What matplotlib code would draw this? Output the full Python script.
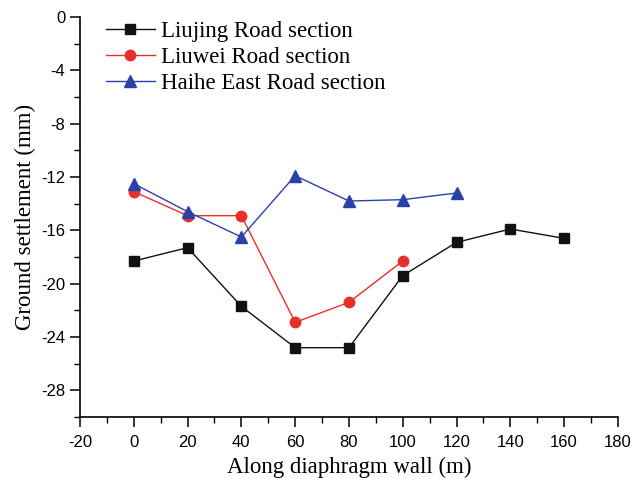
import matplotlib.pyplot as plt
import numpy as np

plt.rcParams['axes.unicode_minus'] = False

# distance along the diaphragm wall (m) and settlement (mm)
x_liujing = [0, 20, 40, 60, 80, 100, 120, 140, 160]
y_liujing = [-18.3, -17.3, -21.7, -24.8, -24.8, -19.4, -16.9, -15.9, -16.6]

x_liuwei = [0, 20, 40, 60, 80, 100]
y_liuwei = [-13.1, -14.9, -14.9, -22.9, -21.4, -18.3]

x_haihe = [0, 20, 40, 60, 80, 100, 120]
y_haihe = [-12.5, -14.6, -16.5, -11.9, -13.8, -13.7, -13.2]

serif = 'Liberation Serif'
sans = 'Liberation Sans'

fig = plt.figure(figsize=(6.37, 4.79), dpi=100)
ax = fig.add_axes([0.1256, 0.1294, 0.8444, 0.8351])

ax.plot(x_liujing, y_liujing, color='#111111', lw=1, marker='s', ms=7,
        label='Liujing Road section')
ax.plot(x_liuwei, y_liuwei, color='#e8302a', lw=1, marker='o', ms=7.5,
        label='Liuwei Road section')
ax.plot(x_haihe, y_haihe, color='#2b41a6', lw=1, marker='^', ms=8,
        label='Haihe East Road section')

ax.set_xlim(-20, 180)
ax.set_ylim(-30, 0)
ax.set_xticks(np.arange(-20, 181, 20))
ax.set_xticks(np.arange(-20, 181, 10), minor=True)
ax.set_yticks(np.arange(-28, 1, 4))
ax.set_yticks(np.arange(-30, 1, 2), minor=True)

for s in ['top', 'right']:
    ax.spines[s].set_visible(False)
for s in ['left', 'bottom']:
    ax.spines[s].set_linewidth(1.2)

ax.tick_params(which='major', direction='out', length=7, width=1.1, labelsize=12)
ax.tick_params(axis='x', which='major', pad=6)
ax.tick_params(which='minor', direction='out', length=4, width=1)
for lab in ax.get_xticklabels() + ax.get_yticklabels():
    lab.set_fontfamily(sans)

ax.set_xlabel('Along diaphragm wall (m)', family=serif, fontsize=16.5, labelpad=5)
ax.set_ylabel('Ground settlement (mm)', family=serif, fontsize=16.5)

ax.legend(loc='upper left', bbox_to_anchor=(0.032, 1.012), frameon=False,
          prop={'family': serif, 'size': 16.5}, handlelength=2.1,
          handletextpad=0.3, labelspacing=0.2, borderaxespad=0)

fig.savefig('out.png', dpi=100)
